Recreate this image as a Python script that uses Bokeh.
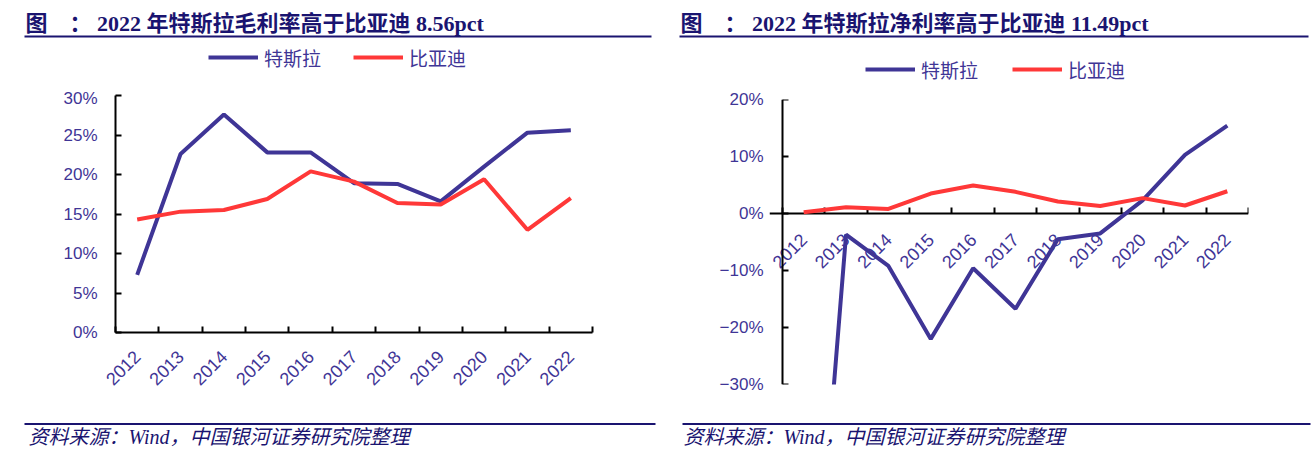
from bokeh.plotting import figure
from bokeh.models import (Range1d, LinearAxis, FixedTicker, Label, BoxAnnotation,
                          Legend, LegendItem)
from bokeh.layouts import row, column
from bokeh.embed import file_html
from bokeh.resources import INLINE
from bokeh.core.properties import value
from math import pi

# ---------------- data ----------------
years = ["2012", "2013", "2014", "2015", "2016", "2017", "2018", "2019", "2020", "2021", "2022"]
series_names = ["特斯拉", "比亚迪"]

tesla_gross = [7.3, 22.6, 27.6, 22.8, 22.8, 18.9, 18.8, 16.6, 21.0, 25.3, 25.6]
byd_gross = [14.3, 15.3, 15.5, 16.9, 20.4, 19.1, 16.4, 16.2, 19.4, 13.0, 17.0]

tesla_net = [-95.9, -3.7, -9.2, -22.0, -9.6, -16.7, -4.5, -3.5, 2.3, 10.3, 15.4]
byd_net = [0.2, 1.1, 0.8, 3.5, 4.9, 3.8, 2.1, 1.3, 2.7, 1.4, 3.9]

gross_ticks = [0, 5, 10, 15, 20, 25, 30]
gross_tick_labels = ["0%", "5%", "10%", "15%", "20%", "25%", "30%"]
net_ticks = [-30, -20, -10, 0, 10, 20]
net_tick_labels = ["\u221230%", "\u221220%", "\u221210%", "0%", "10%", "20%"]

title_left = "图\u3000： 2022 年特斯拉毛利率高于比亚迪 8.56pct"
title_right = "图\u3000： 2022 年特斯拉净利率高于比亚迪 11.49pct"
source_text = "资料来源：Wind，中国银河证券研究院整理"

# ---------------- style ----------------
NAVY = "#1a1470"
AX_TXT = "#3f3596"
TESLA_C = "#3f3596"
BYD_C = "#ff3838"
SERIF_CJK = "Liberation Serif, Noto Sans CJK SC"
CJK = "Noto Sans CJK SC"
SANS = "Liberation Sans"

HDR_H = 88
MAIN_H = 322
FTR_H = 54
W1 = 660
W2 = 654
LW = 4


def blank_fig(width, height):
    f = figure(width=width, height=height, output_backend="svg", toolbar_location=None,
               x_range=Range1d(0, width), y_range=Range1d(height, 0),
               x_axis_location=None, y_axis_location=None,
               min_border_left=0, min_border_right=0, min_border_top=0, min_border_bottom=0)
    f.outline_line_color = None
    f.xgrid.visible = False
    f.ygrid.visible = False
    f.background_fill_color = "white"
    f.border_fill_color = "white"
    return f


def header(width, title, title_x, rule_right, legend_x, legend_mid_y, spacing, tesla, byd):
    h = blank_fig(width, HDR_H)
    h.add_layout(Label(x=title_x, y=22.5, text=title, text_font=SERIF_CJK,
                       text_font_size="22px", text_font_style="bold",
                       text_color=NAVY, text_baseline="alphabetic"))
    h.add_layout(BoxAnnotation(left=title_x - 1, right=rule_right, top=35, bottom=37,
                               fill_color=NAVY, fill_alpha=1, line_color=None))
    xs = list(range(len(years)))
    d1 = h.line(xs, tesla, line_color=TESLA_C, line_width=LW, visible=False)
    d2 = h.line(xs, byd, line_color=BYD_C, line_width=LW, visible=False)
    legend = Legend(items=[LegendItem(label=series_names[0], renderers=[d1]),
                           LegendItem(label=series_names[1], renderers=[d2])],
                    location=(legend_x, HDR_H - (legend_mid_y + 10)), orientation="horizontal",
                    border_line_color=None, background_fill_alpha=0, padding=0, margin=0,
                    spacing=spacing, glyph_width=50, glyph_height=20, label_standoff=6,
                    label_height=20, label_text_font=CJK, label_text_font_size="19px",
                    label_text_color=AX_TXT, inactive_fill_alpha=0)
    h.add_layout(legend)
    return h


def footer(width, src_x, rule_left, rule_right):
    f = blank_fig(width, FTR_H)
    f.add_layout(BoxAnnotation(left=rule_left, right=rule_right, top=12.5, bottom=14.5,
                               fill_color=NAVY, fill_alpha=1, line_color=None))
    f.add_layout(Label(x=src_x, y=26, text=source_text, text_font=SERIF_CJK,
                       text_font_size="20px", text_font_style="italic",
                       text_color=NAVY, text_baseline="alphabetic"))
    return f


def label_axis(ticks, labels, standoff):
    ax = LinearAxis(ticker=FixedTicker(ticks=ticks, minor_ticks=[]))
    ax.major_label_overrides = {t: l for t, l in zip(ticks, labels)}
    ax.major_label_standoff = standoff
    ax.major_label_text_font = SANS
    ax.major_label_text_font_size = "17px"
    ax.major_label_text_color = AX_TXT
    return ax


def main_fig(width, ml, mr, mt, mb, x_lo, y_lo, y_hi, y_ticks, y_labels, tesla, byd, zero_axis):
    n = len(years)
    xs = list(range(n))
    p = figure(width=width, height=MAIN_H, output_backend="svg", toolbar_location=None,
               x_range=Range1d(x_lo, n - 0.5), y_range=Range1d(y_lo, y_hi),
               x_axis_location=None, y_axis_location=None,
               min_border_left=ml, min_border_right=mr, min_border_top=mt, min_border_bottom=mb)
    p.outline_line_color = None
    p.xgrid.visible = False
    p.ygrid.visible = False
    p.background_fill_color = "white"
    p.border_fill_color = "white"

    if zero_axis:
        # tick labels outside the frame, axis line + inner ticks at the first category edge
        lab = label_axis(y_ticks, y_labels, 6)
        lab.axis_line_color = None
        lab.major_tick_line_color = None
        lab.major_tick_in = 0
        lab.major_tick_out = 0
        lab.minor_tick_line_color = None
        p.add_layout(lab, "left")
        yax = LinearAxis(ticker=FixedTicker(ticks=[], minor_ticks=y_ticks), fixed_location=-0.5)
        yax.minor_tick_in = 6
        yax.minor_tick_out = 0
        yax.minor_tick_line_width = 2
        yax.minor_tick_line_color = "black"
    else:
        yax = label_axis(y_ticks, y_labels, 18)
        yax.major_tick_in = 6
        yax.major_tick_out = 0
        yax.minor_tick_in = 0
        yax.minor_tick_out = 0
        yax.major_tick_line_width = 2
        yax.major_tick_line_color = "black"
    yax.axis_line_width = 2
    yax.axis_line_color = "black"
    p.add_layout(yax, "left")

    bounds = [i - 0.5 for i in range(n + 1)]
    if zero_axis:
        xax = LinearAxis(ticker=FixedTicker(ticks=[], minor_ticks=bounds), fixed_location=0)
        xax.level = "underlay"
        # category labels hang just under the zero line
        p.text(x=xs, y=0, text=years, angle=pi / 4, text_align="right",
               text_baseline="middle", y_offset=23, text_font=value(SANS),
               text_font_size="18px", text_color=AX_TXT)
    else:
        xax = LinearAxis(ticker=FixedTicker(ticks=xs, minor_ticks=bounds))
        xax.major_label_overrides = {i: y for i, y in zip(xs, years)}
        xax.major_label_orientation = pi / 4
        xax.major_label_standoff = 21
        xax.major_label_text_font = SANS
        xax.major_label_text_font_size = "18px"
        xax.major_label_text_color = AX_TXT
    xax.major_tick_in = 0
    xax.major_tick_out = 0
    xax.minor_tick_in = 6
    xax.minor_tick_out = 0
    xax.minor_tick_line_width = 2
    xax.minor_tick_line_color = "black"
    xax.axis_line_width = 2
    xax.axis_line_color = "black"
    p.add_layout(xax, "below")

    p.line(xs, tesla, line_color=TESLA_C, line_width=LW)
    p.line(xs, byd, line_color=BYD_C, line_width=LW)
    return p


# left panel: gross margin
h1 = header(W1, title_left, 25, 651, 208, 60.7, 32, tesla_gross, byd_gross)
m1 = main_fig(W1, 115, 68, 7, 78, -0.5, 0, 30, gross_ticks, gross_tick_labels,
              tesla_gross, byd_gross, False)
f1 = footer(W1, 28, 24, 655)

# right panel: net margin
h2 = header(W2, title_right, 20, 648, 205, 72.5, 34, tesla_net, byd_net)
m2 = main_fig(W2, 109, 66, 11, 26, -0.5 - 13 / 42.36, -30, 20, net_ticks, net_tick_labels,
              tesla_net, byd_net, True)
f2 = footer(W2, 23, 22, 650)

panel1 = column(column(h1), column(m1), column(f1))
panel2 = column(column(h2), column(m2), column(f2))
layout = row(panel1, panel2)
open("out.html", "w").write(file_html(layout, INLINE))
